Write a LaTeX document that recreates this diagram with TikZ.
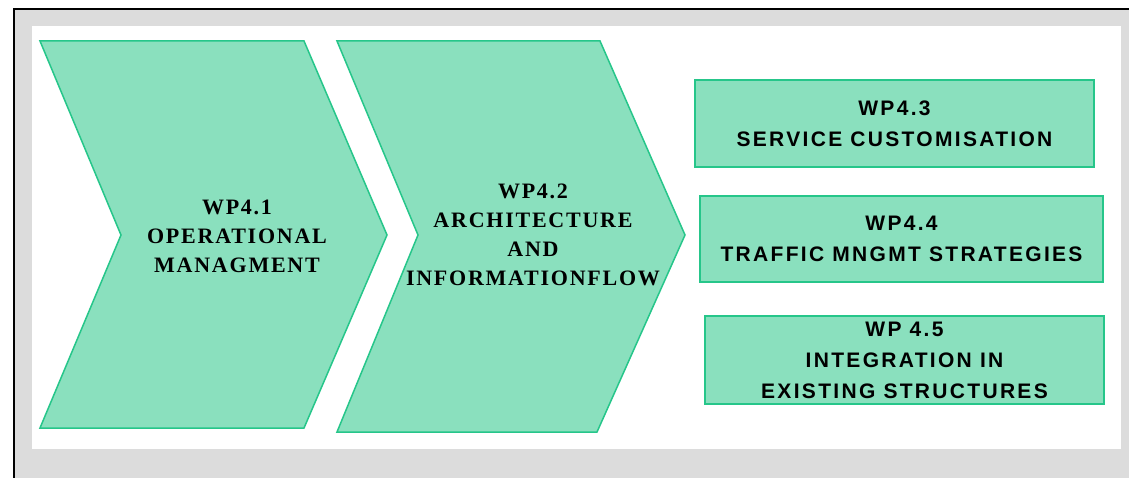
\documentclass[tikz,border=0pt]{standalone}
\usepackage{fontspec}
\setmainfont{Liberation Serif}
\setsansfont{Liberation Sans}
\definecolor{wpfill}{RGB}{138,224,190}
\definecolor{wpline}{RGB}{38,198,138}
\definecolor{panelgray}{RGB}{220,220,220}

\begin{document}
\begin{tikzpicture}[x=1pt,y=-1pt,
    wpshape/.style={fill=wpfill,draw=wpline,line width=1.5pt},
    wptext/.style={font=\fontsize{22}{29}\selectfont\bfseries\addfontfeatures{LetterSpace=8},align=center,text=black},
    wpbox/.style={wpshape,font=\sffamily\fontsize{21}{31}\selectfont\bfseries\addfontfeatures{LetterSpace=11},align=center,inner sep=0pt}]
    \useasboundingbox (0,0) rectangle (1129,478);
    \fill[panelgray] (14,9) rectangle (1129,478);
    \draw[line width=2pt] (14,478) -- (14,9) -- (1129,9);
    \fill[white] (32,26) rectangle (1121,449);
    % the two chevrons
    \draw[wpshape] (40,41) -- (304,41) -- (387,235) -- (304,428) -- (40,428) -- (121,235) -- cycle;
    \draw[wpshape] (337,41) -- (600,41) -- (685,235) -- (597,432) -- (337,432) -- (418,235) -- cycle;
    \node[wptext] (WP41) at (237,236) {WP4.1\\OPERATIONAL\\MANAGMENT};
    \node[wptext] (WP42) at (533,235) {WP4.2\\ARCHITECTURE\\AND\\INFORMATIONFLOW};
    % the three boxes
    \node[wpbox,minimum width=399pt,minimum height=87pt] (WP43) at (894.5,123.5) {WP4.3\\SERVICE CUSTOMISATION};
    \node[wpbox,minimum width=403pt,minimum height=86pt] (WP44) at (901.5,239) {WP4.4\\TRAFFIC MNGMT STRATEGIES};
    \node[wpbox,minimum width=399pt,minimum height=88pt] (WP45) at (904.5,360) {WP 4.5\\INTEGRATION IN\\EXISTING STRUCTURES};
\end{tikzpicture}
\end{document}
